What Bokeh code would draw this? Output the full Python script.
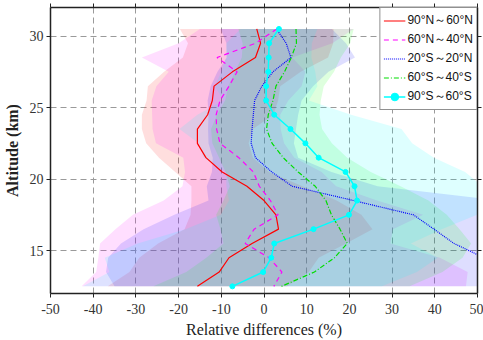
from bokeh.plotting import figure
from bokeh.models import Range1d, LinearAxis, FixedTicker, CustomJSTickFormatter
from bokeh.embed import file_html
from bokeh.resources import INLINE

# ---------------- data ----------------
altitude = [30.5, 29.5, 28.5, 27.5, 26.5, 25.5, 24.5, 23.5, 22.5, 21.5,
            20.5, 19.5, 18.5, 17.5, 16.5, 15.5, 14.5, 13.5, 12.5]

series_names = ["90°N～60°N", "60°N～40°N", "20°S～20°N", "60°S～40°S", "90°S～60°S"]

red_mean = [-1.7, -0.8, -2.0, -7.4, -11.7, -12.1, -13.2, -15.6, -15.6, -13.6,
            -9.8, -4.0, 0.0, 2.8, 3.4, -2.8, -8.2, -10.5, -15.6]
mag_mean = [3.0, -2.0, -11.0, -6.3, -8.2, -10.3, -11.2, -11.1, -10.3, -5.9,
            -2.5, -1.1, 1.5, 3.3, -2.3, -4.4, 1.2, 4.2, 2.3]
blue_mean = [2.9, 5.2, 6.3, 2.1, -0.5, -2.2, -2.5, -2.8, -3.0, -2.0,
             1.8, 6.6, 21.0, 35.0, 39.8, 44.5, 51.5, 58.0, 65.0]
green_mean = [7.5, 7.6, 6.4, 4.8, 2.8, 2.1, 1.0, 0.6, 1.9, 4.5,
              8.0, 12.0, 14.5, 15.8, 17.8, 19.5, 16.5, 11.8, 4.1]
cyan_mean = [3.5, 1.2, 1.1, 1.0, 0.5, 0.5, 2.4, 6.2, 9.7, 12.8,
             19.1, 21.2, 21.8, 19.9, 11.6, 2.4, 1.7, -0.2, -7.4]

red_std = [18, 17, 17, 16, 15.5, 15.4, 15.4, 13, 12, 11,
           11, 13, 17, 20, 22, 22, 21, 21, 21]
mag_std = [18, 18, 17.6, 16, 17, 16, 15, 15, 15, 13,
           16, 18, 25, 34, 32.5, 34, 40, 43.5, 45]
blue_std = [13, 14, 15, 13, 12, 11, 10.5, 10.3, 10, 10,
            14, 20, 34, 56, 68, 78, 88, 95, 100]
green_std = [13.5, 12.6, 11.6, 11.6, 11.2, 11.2, 12, 13, 14, 15,
             17, 20, 24, 27, 28, 29, 30, 30, 30]
cyan_std = [9, 10, 10, 11, 12, 10, 18, 26, 25, 27,
            28, 30, 30, 30, 30, 32, 39, 36, 35]

x_ticks = [-50, -40, -30, -20, -10, 0, 10, 20, 30, 40, 50]
y_ticks = [15, 20, 25, 30]

# ---------------- figure ----------------
p = figure(width=483, height=340, x_range=Range1d(-50, 50), y_range=Range1d(12, 32),
           output_backend="svg", toolbar_location=None,
           min_border_left=44, min_border_right=6, min_border_top=7, min_border_bottom=47)
p.outline_line_color = None
p.background_fill_color = "white"
p.border_fill_color = "white"

means = [red_mean, mag_mean, blue_mean, green_mean, cyan_mean]
stds = [red_std, mag_std, blue_std, green_std, cyan_std]
colors = ["#FF0000", "#FF00FF", "#0000FF", "#00FF00", "#00FFFF"]

# shaded bands (mean +/- std)
for m, s, c in zip(means, stds, colors):
    lo = [a - b for a, b in zip(m, s)]
    hi = [a + b for a, b in zip(m, s)]
    p.harea(y=altitude, x1=lo, x2=hi, fill_color=c, fill_alpha=0.13)

# lines
p.line(red_mean, altitude, line_color="#FF0000", line_width=1.2, legend_label=series_names[0])
p.line(mag_mean, altitude, line_color="#FF00FF", line_width=1.2, line_dash="5 4",
       legend_label=series_names[1])
p.line(blue_mean, altitude, line_color="#0000FF", line_width=1.2, line_dash="1 1",
       legend_label=series_names[2])
p.line(green_mean, altitude, line_color="#00DD00", line_width=1.2, line_dash="5 2 1 2",
       legend_label=series_names[3])
p.line(cyan_mean, altitude, line_color="#00FFFF", line_width=1.5, legend_label=series_names[4])
p.scatter(cyan_mean, altitude, size=5, marker="circle", fill_color="#00FFFF",
          line_color="#00FFFF", legend_label=series_names[4])

# grid
for g in (p.xgrid, p.ygrid):
    g.grid_line_color = "#9A9A9A"
    g.grid_line_dash = "6 4"
    g.grid_line_width = 1
p.xgrid.ticker = FixedTicker(ticks=x_ticks)
p.ygrid.ticker = FixedTicker(ticks=y_ticks)

# axes
serif = "Liberation Serif"
plain = CustomJSTickFormatter(code="return String(tick)")
for ax in (p.xaxis[0], p.yaxis[0]):
    ax.formatter = plain
    ax.axis_line_color = "#222222"
    ax.axis_line_width = 1.5
    ax.major_tick_line_color = "#222222"
    ax.major_tick_out = 4
    ax.major_tick_in = 0
    ax.minor_tick_out = 0
    ax.minor_tick_in = 0
    ax.major_label_text_font = serif
    ax.major_label_text_font_size = "14px"
    ax.major_label_text_color = "#333333"
    ax.axis_label_text_font = serif
    ax.axis_label_text_font_size = "16px"
    ax.axis_label_text_color = "#222222"

p.xaxis[0].ticker = FixedTicker(ticks=x_ticks)
p.yaxis[0].ticker = FixedTicker(ticks=y_ticks)
p.xaxis[0].axis_label = "Relative differences (%)"
p.yaxis[0].axis_label = "Altitude (km)"
p.xaxis[0].axis_label_text_font_style = "normal"
p.yaxis[0].axis_label_text_font_style = "bold"
p.xaxis[0].major_label_standoff = 6
p.yaxis[0].major_label_standoff = 3
p.xaxis[0].axis_label_standoff = 4
p.yaxis[0].axis_label_standoff = 6

blank = CustomJSTickFormatter(code="return ''")
top_ax = LinearAxis(ticker=FixedTicker(ticks=x_ticks), formatter=blank)
right_ax = LinearAxis(ticker=FixedTicker(ticks=y_ticks), formatter=blank)
for ax in (top_ax, right_ax):
    ax.axis_line_color = "#222222"
    ax.axis_line_width = 1.5
    ax.major_tick_line_color = "#222222"
    ax.major_tick_out = 4
    ax.major_tick_in = 0
    ax.minor_tick_out = 0
    ax.minor_tick_in = 0
    ax.major_label_standoff = 0
    ax.major_label_text_font_size = "1px"
p.add_layout(top_ax, "above")
p.add_layout(right_ax, "right")

# legend
lg = p.legend[0]
lg.location = "top_right"
lg.margin = 0
lg.padding = 3
lg.spacing = 0
lg.label_height = 19
lg.glyph_height = 19
lg.glyph_width = 22
lg.label_standoff = 2
lg.label_text_font = "Liberation Sans"
lg.label_text_font_size = "12px"
lg.label_text_color = "#111111"
lg.border_line_color = "#222222"
lg.border_line_width = 1
lg.background_fill_alpha = 1.0

open("out.html", "w").write(file_html(p, INLINE))
